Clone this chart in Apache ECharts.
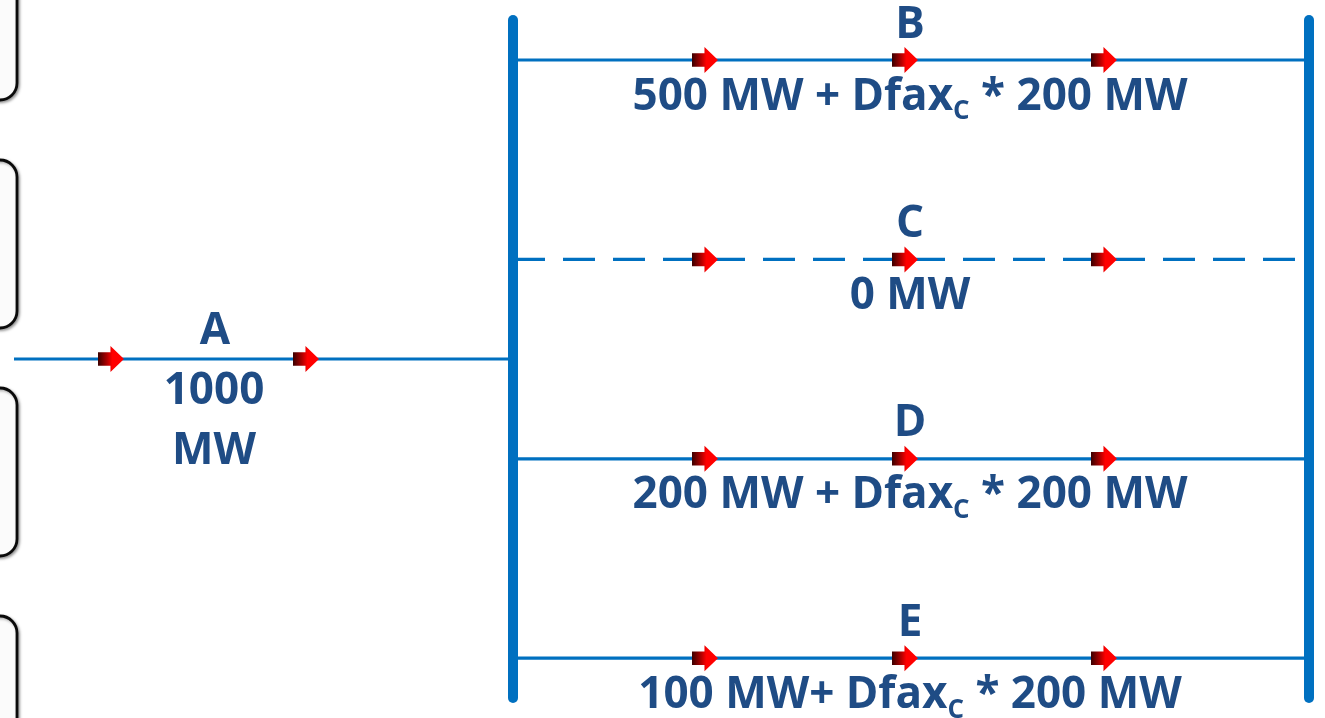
<!DOCTYPE html>
<html><head><meta charset="utf-8">
<script src="https://cdn.jsdelivr.net/npm/echarts@6/dist/echarts.min.js"></script>
<style>html,body{margin:0;padding:0;background:#fff;overflow:hidden}#c{width:1325px;height:718px}</style>
</head><body><div id="c"></div>
<script>
// ---------- data ----------
const feederName = 'A';
const feederFlowMW = 1000;
const branchNames = ['B', 'C', 'D', 'E'];
const branchBaseMW = [500, 0, 200, 100];
const branchOutaged = [false, true, false, false];
const transferMW = 200;
const branchFlowText = [
  '500 MW + Dfax_C * 200 MW',
  '0 MW',
  '200 MW + Dfax_C * 200 MW',
  '100 MW+ Dfax_C * 200 MW'
];

// ---------- layout ----------
const W = 1325, H = 718;
const busLeftX = 513, busRightX = 1309, busTop = 20, busBottom = 698;
const branchY0 = 60, branchStep = 199.4;
const arrowXs = [705, 905, 1104];
const feederY = 359, feederX0 = 14, feederArrowXs = [111, 306], feederLabelX = 214;
const labelX = 910;
const boxRight = 17, boxLeft = -120, boxTop0 = -68, boxH = 168, boxStep = 228, boxCount = 4;

const LINE = '#0070C0';
const TEXT = '#1F4C85';
const FONT = "'Open Sans', 'Noto Sans', sans-serif";
const FS = 44;

const branchY = branchNames.map((_, i) => branchY0 + i * branchStep);

const arrowGrad = new echarts.graphic.LinearGradient(0, 0, 1, 0, [
  { offset: 0, color: '#3a0000' },
  { offset: 0.35, color: '#b00000' },
  { offset: 0.55, color: '#ff0000' },
  { offset: 1, color: '#ff0000' }
]);
const arrowPath = 'path://M0,6 L12,6 L12,0 L25,12.5 L12,25 L12,19 L0,19 Z';

const series = [];

// left-edge rounded boxes
const boxData = [];
for (let i = 0; i < boxCount; i++) boxData.push([i]);
series.push({
  type: 'custom', silent: true, z: 1,
  data: boxData,
  renderItem: function (params, api) {
    const i = api.value(0);
    const top = boxTop0 + i * boxStep;
    const p0 = api.coord([boxLeft, top]);
    const p1 = api.coord([boxRight, top + boxH]);
    return {
      type: 'rect',
      shape: { x: p0[0], y: p0[1], width: p1[0] - p0[0], height: p1[1] - p0[1], r: 17 },
      style: {
        fill: '#fbfbfb', stroke: '#0a0a0a', lineWidth: 2.8,
        shadowBlur: 3, shadowColor: 'rgba(0,0,0,0.35)', shadowOffsetX: 1.5, shadowOffsetY: 1.5
      }
    };
  }
});

function seg(data, width, dashed, cap, z) {
  return {
    type: 'line', data: data, symbol: 'none', silent: true, z: z, animation: false,
    lineStyle: { color: LINE, width: width, type: dashed ? [32, 18] : 'solid', cap: cap || 'butt' }
  };
}

// feeder A
series.push(seg([[feederX0, feederY], [busLeftX, feederY]], 3, false, 'butt', 2));
// branches
branchY.forEach((y, i) => {
  series.push(seg([[busLeftX, y], [busRightX, y]], 3.2, branchOutaged[i], 'butt', 2));
});
// bus bars
series.push(seg([[busLeftX, busTop], [busLeftX, busBottom]], 10, false, 'round', 3));
series.push(seg([[busRightX, busTop], [busRightX, busBottom]], 10, false, 'round', 3));

// arrows
const arrowData = [];
feederArrowXs.forEach(x => arrowData.push([x, feederY]));
branchY.forEach(y => arrowXs.forEach(x => arrowData.push([x, y])));
series.push({
  type: 'scatter', z: 5, silent: true, animation: false,
  symbol: arrowPath, symbolSize: [26, 26],
  itemStyle: { color: arrowGrad, opacity: 1 },
  data: arrowData
});

// labels as custom text elements placed through the axes
const noBorder = { textBorderWidth: 0, textBorderColor: 'transparent', textShadowBlur: 0 };
const richMain = Object.assign({ fontSize: FS, fontWeight: 'bold', fontFamily: FONT, fill: TEXT, color: TEXT, lineHeight: 60 }, noBorder);
const richSub = Object.assign({ fontSize: 26, fontWeight: 'bold', fontFamily: FONT, fill: TEXT, color: TEXT, lineHeight: 26, padding: [30, 0, 0, 0] }, noBorder);
function toRich(t) {
  const parts = t.split('_C');
  return parts.map(p => '{n|' + p + '}').join('{s|C}');
}
const labelTexts = [];
const labelData = [];
branchY.forEach((y, i) => {
  labelTexts.push('{n|' + branchNames[i] + '}');
  labelData.push([labelX, y - 35, labelTexts.length - 1]);
  labelTexts.push(toRich(branchFlowText[i]));
  labelData.push([labelX, y + 37, labelTexts.length - 1]);
});
labelTexts.push('{n|' + feederName + '}');
labelData.push([feederLabelX + 1, feederY - 28, labelTexts.length - 1]);
labelTexts.push('{n|' + feederFlowMW + '}\n{n|MW}');
labelData.push([feederLabelX, feederY + 62, labelTexts.length - 1]);

series.push({
  type: 'custom', z: 6, silent: true, animation: false,
  data: labelData,
  renderItem: function (params, api) {
    const p = api.coord([api.value(0), api.value(1)]);
    return {
      type: 'text',
      x: p[0], y: p[1],
      style: {
        text: labelTexts[api.value(2)],
        align: 'center', verticalAlign: 'middle',
        fill: TEXT, opacity: 1,
        rich: { n: richMain, s: richSub }
      }
    };
  }
});

const chart = echarts.init(document.getElementById('c'), null, { renderer: 'canvas' });
chart.setOption({
  animation: false,
  backgroundColor: '#ffffff',
  grid: { left: 0, right: 0, top: 0, bottom: 0 },
  xAxis: { type: 'value', min: 0, max: W, show: false },
  yAxis: { type: 'value', min: 0, max: H, inverse: true, show: false },
  series: series
});
</script></body></html>
